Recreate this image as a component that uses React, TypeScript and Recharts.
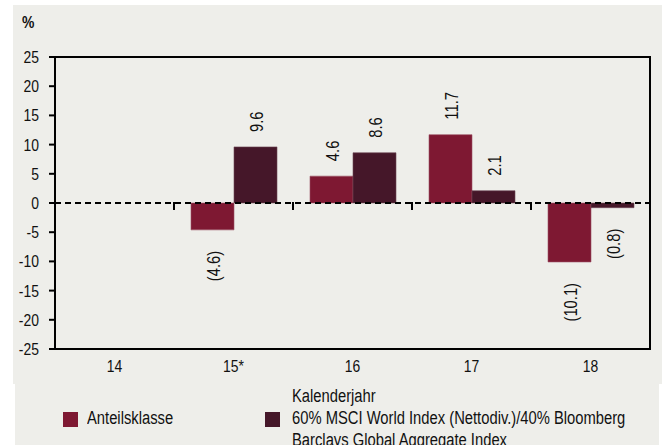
import React from 'react';
import {
  BarChart, Bar, XAxis, YAxis, ReferenceLine, ReferenceArea, LabelList, Legend,
} from 'recharts';

const categories = ['14', '15*', '16', '17', '18'];
const anteilsklasse = [null, -4.6, 4.6, 11.7, -10.1];
const benchmark = [null, 9.6, 8.6, 2.1, -0.8];
const yTicks = [-25, -20, -15, -10, -5, 0, 5, 10, 15, 20, 25];
const yDomain = [-25, 25];
const seriesNames = ['Anteilsklasse', '60% MSCI World Index (Nettodiv.)/40% Bloomberg Barclays Global Aggregate Index'];
const colors = ['#7e1832', '#451729'];

const data = categories.map((c, i) => ({ year: c, a: anteilsklasse[i], b: benchmark[i] }));
const separators = categories.slice(1);

const FONT = "'Liberation Sans', Arial, sans-serif";
const SX = 0.82;

const fmt = (v: number) => (v < 0 ? `(${Math.abs(v).toFixed(1)})` : v.toFixed(1));

const NText = ({ x, y, anchor = 'start', size = 17, rotate = 0, weight = 'normal', dy, baseline, children }: any) => (
  <text transform={`translate(${x} ${y}) rotate(${rotate}) scale(${SX} 1)`} x={0} y={0} dy={dy}
    textAnchor={anchor} dominantBaseline={baseline} fontFamily={FONT} fontSize={size} fontWeight={weight} fill="#111">
    {children}
  </text>
);

const ValueLabel = (props: any) => {
  const { x, y, width, height, value } = props;
  if (value === null || value === undefined) return null;
  const cx = x + width / 2 + 1;
  const top = Math.min(y, y + height);
  const bottom = Math.max(y, y + height);
  if (value >= 0) {
    return <NText x={cx} y={top - 15} rotate={-90} anchor="start" baseline="central" size={18}>{fmt(value)}</NText>;
  }
  return <NText x={cx} y={bottom + 21} rotate={-90} anchor="end" baseline="central" size={18}>{fmt(value)}</NText>;
};

const SepShape = (p: any) => {
  const { x1, y1, y2 } = p;
  const top = Math.min(y1, y2);
  const bot = Math.max(y1, y2);
  const zeroY = top + ((bot - top) * yDomain[1]) / (yDomain[1] - yDomain[0]);
  return <line x1={x1} x2={x1} y1={zeroY - 1} y2={zeroY + 7} stroke="#000" strokeWidth={2} />;
};

const YTick = (p: any) => <NText x={p.x} y={p.y} anchor="end" dy="0.355em" size={17}>{p.payload.value}</NText>;
const XTick = (p: any) => <NText x={p.x} y={p.y} anchor="middle" dy="0.71em" size={17}>{p.payload.value}</NText>;

const LegendContent = () => (
  <div style={{ position: 'relative', width: 662, height: 70, fontFamily: FONT, fontSize: 18, color: '#111' }}>
    <div style={{ position: 'absolute', left: 63, top: 37, width: 15, height: 15, background: colors[0] }} />
    <div style={{ position: 'absolute', left: 87, top: 32, lineHeight: '22px', whiteSpace: 'nowrap', transform: `scaleX(${SX})`, transformOrigin: 'left top' }}>{seriesNames[0]}</div>
    <div style={{ position: 'absolute', left: 265, top: 37, width: 15, height: 15, background: colors[1] }} />
    <div style={{ position: 'absolute', left: 292, top: 10, width: 440, lineHeight: '22px', transform: `scaleX(${SX})`, transformOrigin: 'left top' }}>
      <div>Kalenderjahr</div>
      <div>60% MSCI World Index (Nettodiv.)/40% Bloomberg</div>
      <div>Barclays Global Aggregate Index</div>
    </div>
  </div>
);

export default function App() {
  return (
    <div style={{ position: 'absolute', left: 0, top: 0, width: 662, height: 445, background: '#fff', overflow: 'hidden' }}>
      <div style={{ position: 'absolute', left: 13, top: 5, width: 649, height: 379, background: '#eeeeea' }} />
      <div style={{ position: 'absolute', left: 15, top: 384, width: 644, height: 61, background: '#eeeeea' }} />
      <div style={{ position: 'absolute', left: 0, top: 0 }}>
        <BarChart width={662} height={445} data={data} margin={{ top: 57, right: 12, bottom: 66, left: 0 }}
          barGap={0} barSize={43}>
          <XAxis dataKey="year" axisLine={false} tickLine={false} tickSize={0} tickMargin={11} height={30}
            tick={XTick} />
          <YAxis width={55} domain={yDomain} ticks={yTicks} interval={0} allowDataOverflow
            axisLine={{ stroke: '#000', strokeWidth: 2 }} tickLine={{ stroke: '#000', strokeWidth: 2 }}
            tickSize={6} tickMargin={10} tick={YTick}
            label={() => <NText x={22} y={28} size={17} weight="bold">%</NText>} />
          <Bar dataKey="a" name={seriesNames[0]} fill={colors[0]} stroke="#9c5064" strokeWidth={0.6} isAnimationActive={false}>
            <LabelList dataKey="a" content={ValueLabel} />
          </Bar>
          <Bar dataKey="b" name={seriesNames[1]} fill={colors[1]} stroke="#6d4756" strokeWidth={0.6} isAnimationActive={false}>
            <LabelList dataKey="b" content={ValueLabel} />
          </Bar>
          <ReferenceLine y={0} stroke="#000" strokeWidth={2} strokeDasharray="6 4" />
          {separators.map((s) => (
            <ReferenceLine key={s} x={s} position="start" stroke="#000" shape={SepShape} />
          ))}
          <ReferenceArea x1={categories[0]} x2={categories[categories.length - 1]} y1={yDomain[0]} y2={yDomain[1]}
            fill="none" fillOpacity={0} stroke="#000" strokeWidth={2} />
          <Legend layout="horizontal" verticalAlign="middle" align="center"
            wrapperStyle={{ position: 'absolute', left: 0, top: 375, width: 662 }} content={LegendContent} />
        </BarChart>
      </div>
    </div>
  );
}
